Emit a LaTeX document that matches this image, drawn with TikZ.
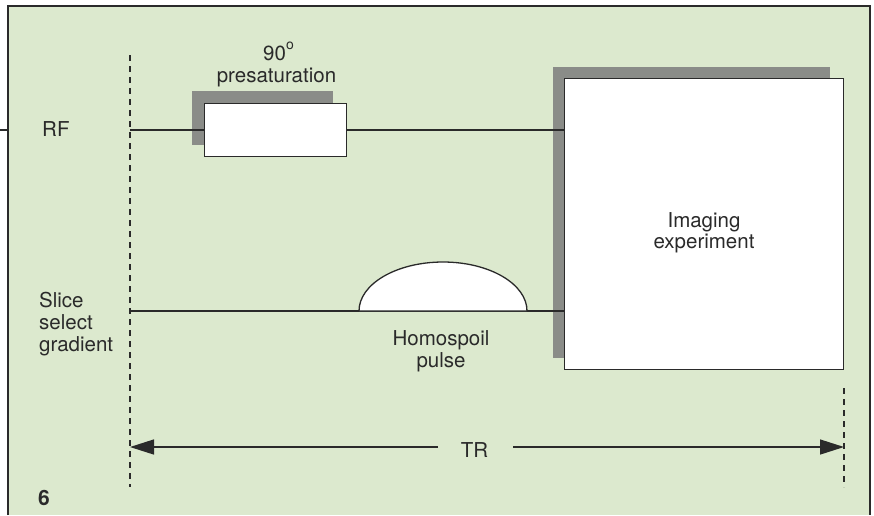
\documentclass[tikz,border=0pt]{standalone}
\usepackage{fontspec}
\setmainfont{TeX Gyre Heros}
\usetikzlibrary{arrows.meta}
\definecolor{bg}{HTML}{DCE9CE}
\definecolor{shade}{HTML}{8A8C88}
\definecolor{ink}{HTML}{2A2A2A}
\tikzset{
  lbl/.style={inner sep=0pt, anchor=base, text=ink, font=\fontsize{20.5}{22}\selectfont},
  lbll/.style={lbl, anchor=base west},
  shadowbox/.style={fill=shade, draw=none, inner sep=0pt, anchor=north west},
  whitebox/.style={fill=white, draw=ink, line width=1.4pt, inner sep=0pt, anchor=north west},
  sigline/.style={draw=ink, line width=1.3pt},
  tline/.style={draw=ink, line width=1.6pt, dash pattern=on 6pt off 5pt},
  trarrow/.style={draw=ink, line width=1.4pt, -{Triangle[length=24pt,width=15pt]}},
}
\begin{document}
\begin{tikzpicture}[x=1pt,y=-1pt]
\useasboundingbox (0,0) rectangle (874,515);
% background panel
\fill[white] (0,0) rectangle (874,515);
\fill[bg] (8,6) rectangle (870,515);
\draw[ink, line width=1.8pt] (8,515) -- (8,6) -- (870,6) -- (870,515);
\draw[ink, line width=1.3pt] (0,130) -- (8,130);
% time lines (dashed)
\coordinate (t0top) at (130,55);
\coordinate (t0bot) at (130,487);
\coordinate (t1top) at (844,388);
\coordinate (t1bot) at (844,487);
\draw[tline] (t0top) -- (t0bot);
\draw[tline] (t1top) -- (t1bot);
% RF and gradient start points
\coordinate (rf0) at (130,130);
\coordinate (gr0) at (130,311);
% shadows
\node[shadowbox, minimum width=141pt, minimum height=54pt] (presatsh) at (192,91) {};
\node[shadowbox, minimum width=277pt, minimum height=291pt] (imgsh) at (553,67) {};
% boxes
\node[whitebox, minimum width=142pt, minimum height=53pt] (presat) at (204,103) {};
\node[whitebox, minimum width=279pt, minimum height=291pt] (img) at (564,78) {};
% RF line
\draw[sigline] (rf0) -- (rf0 -| presat.west);
\draw[sigline] (rf0 -| presat.east) -- (rf0 -| img.west);
% gradient line
\draw[sigline] (gr0) -- (gr0 -| img.west);
% homospoil pulse
\coordinate (bumpL) at (359,311);
\coordinate (bumpR) at (527,311);
\filldraw[fill=white, draw=ink, line width=1.3pt] (bumpL) arc[start angle=180, end angle=0, x radius=84pt, y radius=49pt] -- cycle;
% labels
\node[lbll] (ninety) at (263,60) {90\raisebox{11pt}{\fontsize{14}{14}\selectfont o}};
\node[lbl] (presatlbl) at (276.5,82) {presaturation};
\node[lbll] (rf) at (42,136) {RF};
\node[lbll] (slice1) at (39,307) {Slice};
\node[lbll] (slice2) at (39,329) {select};
\node[lbll] (slice3) at (39,351) {gradient};
\node[lbl] (img1) at (704,227) {Imaging};
\node[lbl] (img2) at (704,248) {experiment};
\node[lbl] (homo1) at (441,345) {Homospoil};
\node[lbl] (homo2) at (441,367) {pulse};
\node[lbl] (tr) at (474.5,457) {TR};
\node[inner sep=0pt, text=ink, font=\fontsize{21}{21}\selectfont\bfseries, anchor=base west] (fig) at (38,505) {6};
% TR arrows
\coordinate (arrL) at (130,447);
\coordinate (arrR) at (844,447);
\coordinate (trL) at (438,447);
\coordinate (trR) at (513,447);
\draw[trarrow] (trL) -- (arrL);
\draw[trarrow] (trR) -- (arrR);
\end{tikzpicture}
\end{document}
